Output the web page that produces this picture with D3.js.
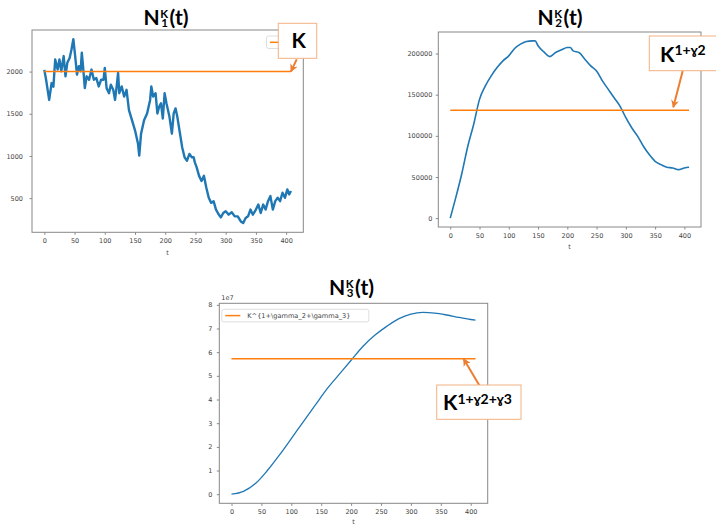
<!DOCTYPE html>
<html>
<head>
<meta charset="utf-8">
<script src="https://cdn.jsdelivr.net/npm/d3@7"></script>
<style>
body{margin:0;background:#fff}
svg text{font-family:"DejaVu Sans",sans-serif}
.ttl text, .ann text{font-family:Lato,"DejaVu Sans",sans-serif;font-weight:bold;fill:#000}
</style>
</head>
<body>
<script>
// ---- data ----
var tEnd = 408
var xTicks = [0,50,100,150,200,250,300,350,400]

// N^K_1(t) : noisy path
var t1 = [0,3,8,12,15,18,22,25,28,32,35,38,42,45,48,51,54,57,60,62,64,67,70,74,78,82,86,90,94,98,100,103,107,110,114,117,120,122,124,128,132,136,140,145,150,155,157,160,165,170,175,177,180,184,187,190,193,196,199,202,207,211,214,217,220,224,228,232,236,240,244,247,249,252,256,260,264,268,272,276,280,284,288,292,296,300,305,310,315,320,325,329,333,337,341,345,350,354,358,362,366,370,374,378,382,386,390,394,398,402,405,408]
var n1 = [2020,1900,1664,1864,1820,2144,2024,2144,2004,2184,1944,2104,2164,2264,2384,2184,1964,2064,2004,2224,2064,1804,1944,1904,2024,1904,1924,1824,1904,1904,2044,1804,1744,1844,1784,1664,1844,1984,1744,1824,1704,1784,1544,1424,1304,1144,1004,1264,1424,1504,1664,1824,1704,1744,1504,1584,1624,1444,1744,1624,1464,1264,1504,1564,1464,1284,1104,984,944,1024,984,984,924,864,764,704,764,624,504,444,464,364,312,272,324,344,304,332,284,284,224,204,264,284,364,304,364,424,324,424,364,464,524,364,464,504,464,564,504,604,544,584]
var k1 = 2000
var y1Ticks = [500,1000,1500,2000]

// N^K_2(t)
var t2 = [0,10,20,30,40,50,60,70,80,90,100,110,120,130,140,145,150,160,170,180,190,200,205,210,220,230,240,250,260,270,280,290,300,310,320,330,340,350,360,370,380,390,400,408]
var n2 = [0,26400,54900,87400,113800,144300,160600,172800,182900,191100,197200,206100,211400,214600,215400,215400,209400,202000,196300,201200,204500,207300,207300,203200,201200,193100,185000,178900,166700,156500,146300,136200,122000,109800,99600,87400,77200,69100,65000,61800,61000,58900,61000,61800]
var k2 = 131000
var y2Ticks = [0,50000,100000,150000,200000]

// N^K_3(t)
var t3 = [0,20,40,60,80,100,120,140,160,180,200,220,240,260,280,300,320,340,360,380,400,408]
var n3 = [0,0.12e7,0.45e7,1.0e7,1.65e7,2.35e7,3.06e7,3.76e7,4.46e7,5.06e7,5.66e7,6.25e7,6.72e7,7.10e7,7.42e7,7.61e7,7.68e7,7.65e7,7.57e7,7.47e7,7.38e7,7.35e7]
var k3 = 5.72e7
var y3Ticks = [0,1e7,2e7,3e7,4e7,5e7,6e7,7e7,8e7]

var titleSubs = ["1","2","3"]
var legendLabel = "K^{1+\\gamma_2+\\gamma_3}"
var annSup = ["", "1+\u02632", "1+\u02632+\u02633"]

var blue = "#1f77b4", orange = "#ff7f0e", arrowCol = "#ed7d31", boxCol = "#f4b183"

var svg = d3.select("body").append("svg").attr("width",716).attr("height",525)

svg.append("defs").append("marker")
	.attr("id","ah").attr("viewBox","0 0 10 10").attr("refX",9).attr("refY",5)
	.attr("markerWidth",4).attr("markerHeight",4).attr("orient","auto")
	.append("path").attr("d","M0,0 L10,5 L0,10 L3,5 Z").attr("fill",arrowCol)

function padded(ext)
{
	var p = (ext[1]-ext[0])*0.05
	return [ext[0]-p, ext[1]+p]
}

function panel(c)
{
	var g = svg.append("g")
	var x = d3.scaleLinear().domain(padded([0,tEnd])).range([c.left,c.right])
	var y = d3.scaleLinear().domain(padded(d3.extent(c.n.concat([c.k])))).range([c.bottom,c.top])

	var xAxis = d3.axisBottom(x).tickValues(xTicks).tickSize(2.5).tickPadding(3.5).tickFormat(d3.format("d"))
	var yAxis = d3.axisLeft(y).tickValues(c.yTicks).tickSize(2.5).tickPadding(c.ypad).tickFormat(c.fmt)

	g.append("g").attr("transform","translate(0,"+c.bottom+")").call(xAxis)
	g.append("g").attr("transform","translate("+c.left+",0)").call(yAxis)
	g.selectAll(".domain").remove()
	g.selectAll(".tick line").attr("stroke","#888")
	g.selectAll(".tick text").attr("font-size",6.5).attr("fill","#444").attr("font-family","DejaVu Sans")

	g.append("text").attr("x",(c.left+c.right)/2).attr("y",c.bottom+c.xlab)
		.attr("text-anchor","middle").attr("font-size",6.5).attr("fill","#444").text("t")

	var line = d3.line().x(function(d){return x(d[0])}).y(function(d){return y(d[1])}).curve(c.curve)
	var pts = c.t.map(function(v,i){return [v,c.n[i]]})
	g.append("path").datum(pts).attr("d",line).attr("fill","none")
		.attr("stroke",blue).attr("stroke-width",c.lw).attr("stroke-linejoin","round")
	g.append("path").datum([[0,c.k],[tEnd,c.k]]).attr("d",line).attr("fill","none")
		.attr("stroke",orange).attr("stroke-width",1.5)

	g.append("rect").attr("x",c.left).attr("y",c.top)
		.attr("width",c.right-c.left).attr("height",c.bottom-c.top)
		.attr("fill","none").attr("stroke","#888").attr("stroke-width",1)

	c.x = x; c.y = y; c.g = g
	return c
}

function title(cx, base, sub)
{
	var tg = svg.append("g").attr("class","ttl")
	var tN = tg.append("text").attr("font-size",21).text("N")
	var wN = tN.node().getComputedTextLength()
	var tK = tg.append("text").attr("x",wN+0.5).attr("y",-7.2).attr("font-size",11.5).text("K")
	var tS = tg.append("text").attr("x",wN+1.5).attr("y",2.2).attr("font-size",11.5).text(sub)
	var xp = wN + 1.5 + Math.max(tK.node().getComputedTextLength(), tS.node().getComputedTextLength()) + 0.5
	var tP = tg.append("text").attr("x",xp).attr("font-size",21).text("(t)")
	var tot = xp + tP.node().getComputedTextLength()
	tg.attr("transform","translate("+(cx-tot/2)+","+base+")")
}

function annotate(p, box, kx, kb, sup, tip, tail)
{
	var ag = svg.append("g").attr("class","ann")
	ag.append("line").attr("x1",tail[0]).attr("y1",tail[1])
		.attr("x2",p.x(tip[0])).attr("y2",p.y(tip[1])+tip[2])
		.attr("stroke",arrowCol).attr("stroke-width",2).attr("marker-end","url(#ah)")
	ag.append("rect").attr("x",box[0]).attr("y",box[1]).attr("width",box[2]).attr("height",box[3])
		.attr("fill","#fff").attr("stroke",boxCol).attr("stroke-width",1)
	var tx = ag.append("text").attr("x",kx).attr("y",kb)
	tx.append("tspan").attr("font-size",21).text("K")
	if (sup) tx.append("tspan").attr("font-size",14).attr("dy",-6.5).text(sup)
}

var p1 = panel({t:t1,n:n1,k:k1,yTicks:y1Ticks,fmt:d3.format("d"),left:32,right:303.3,top:30,bottom:232.3,ypad:6.5,xlab:23,lw:2.4,curve:d3.curveLinear})
var p2 = panel({t:t2,n:n2,k:k2,yTicks:y2Ticks,fmt:d3.format("d"),left:438.3,right:701,top:32,bottom:227,ypad:3.5,xlab:21.5,lw:1.6,curve:d3.curveMonotoneX})
var p3 = panel({t:t3,n:n3,k:k3,yTicks:y3Ticks,fmt:function(d){return d/1e7},left:219.3,right:487.7,top:303.3,bottom:503.3,ypad:4.5,xlab:20.5,lw:1.3,curve:d3.curveMonotoneX})

// 1e7 offset text
p3.g.append("text").attr("x",p3.left+2).attr("y",p3.top-3).attr("font-size",6.5).attr("fill","#444").text("1e7")

// legends (the first one is mostly hidden under the annotation box)
function legend(p, lx, ly, w, label)
{
	var lg = p.g.append("g").attr("transform","translate("+lx+","+ly+")")
	lg.append("rect").attr("width",w).attr("height",12.5).attr("rx",2)
		.attr("fill","#fff").attr("fill-opacity",0.8).attr("stroke","#d5d5d5").attr("stroke-width",0.8)
	lg.append("line").attr("x1",3.5).attr("x2",18.5).attr("y1",6.3).attr("y2",6.3).attr("stroke",orange).attr("stroke-width",1.5)
	lg.append("text").attr("x",25.5).attr("y",8.6).attr("font-size",6.6).attr("fill","#444").text(label)
}
legend(p1, 266.5, 36, 34, "K")
legend(p3, p3.left+2.5, p3.top+6, 147, legendLabel)

title(166, 25, titleSubs[0])
title(560, 25, titleSubs[1])
title(351.5, 295, titleSubs[2])

annotate(p1, [278.3,23.3,38.4,35], 291.5, 48.3, annSup[0], [tEnd,k1,0], [296.7,59.3])
annotate(p2, [649.3,36,70,34.7], 660, 61.7, annSup[1], [381,k2,-3], [682.7,71])
annotate(p3, [436.7,385,84.3,34.3], 443, 410, annSup[2], [388,k3,0], [479.3,385.3])
</script>
</body>
</html>
